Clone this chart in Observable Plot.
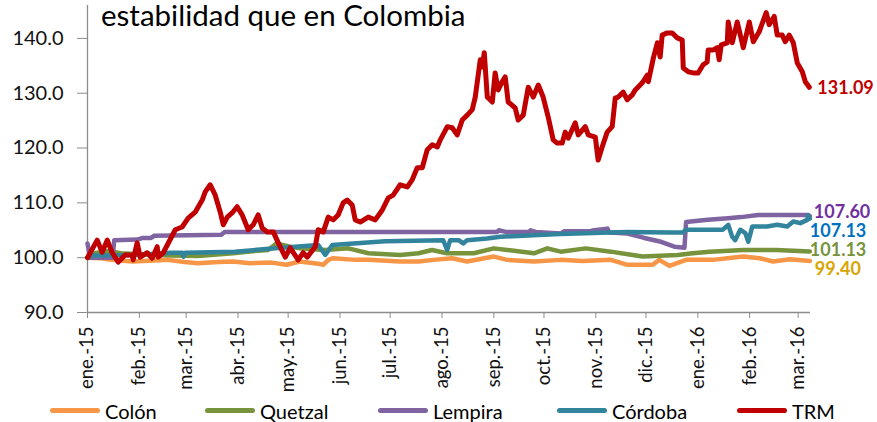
<!DOCTYPE html>
<html><head><meta charset="utf-8">
<script src="https://cdn.jsdelivr.net/npm/d3@7"></script>
<script src="https://cdn.jsdelivr.net/npm/@observablehq/plot@0.6"></script>
<style>
body{margin:0;background:#fff;font-family:Lato,"Open Sans",sans-serif;}
#wrap{position:relative;width:877px;height:422px;overflow:hidden;background:#fff;}
#chart{position:absolute;left:0;top:0;}
#title{position:absolute;left:101px;top:-2px;font-size:29.5px;line-height:34px;color:#000;white-space:nowrap;font-family:Lato,sans-serif;}
#legend{position:absolute;left:0;top:399px;width:877px;height:23px;}
.item{position:absolute;top:0;height:23px;display:flex;align-items:center;font-size:20px;color:#000;white-space:nowrap;}
.sw{width:50px;height:5px;border-radius:3px;margin-right:5px;}
</style></head><body>
<div id="wrap"><div id="chart"></div><div id="title">estabilidad que en Colombia</div><div id="legend"></div></div>
<script>
// ---------- data ----------
const seriesNames = ["Colón", "Quetzal", "Lempira", "Córdoba", "TRM"];
const seriesColors = ["#F79646", "#77933C", "#8064A2", "#31849B", "#C00000"];
const endLabels = ["99.40", "101.13", "107.60", "107.13", "131.09"];
const endLabelColors = ["#D9A400", "#77933C", "#7030A0", "#0070C0", "#C00000"];
const monthLabels = ["ene.-15","feb.-15","mar.-15","abr.-15","may.-15","jun.-15","jul.-15","ago.-15","sep.-15","oct.-15","nov.-15","dic.-15","ene.-16","feb.-16","mar.-16"];
const yTicks = [90, 100, 110, 120, 130, 140];

// days since 1 Jan 2015
const colonDays = [0,8,14,27,40,48,58,66,78,87,97,110,119,127,138,141,144,147,160,168,187,198,207,218,227,243,251,267,283,296,313,323,338,342,348,358,374,392,402,410,420,432];
const colonValues = [100.0,99.9,99.6,99.3,99.5,99.6,99.2,99.0,99.2,99.3,99.0,99.1,98.7,99.3,98.9,98.7,99.6,99.9,99.6,99.6,99.3,99.3,99.6,99.9,99.3,100.2,99.6,99.3,99.6,99.4,99.6,98.7,98.7,99.6,98.5,99.6,99.6,100.2,99.9,99.3,99.7,99.4];

const quetzalDays = [0,4,13,20,35,50,66,87,100,108,113,121,127,142,156,168,187,198,206,215,231,243,251,267,275,283,298,313,332,353,362,372,392,412,432];
const quetzalValues = [100.0,100.8,101.2,100.8,100.6,100.4,100.3,100.8,101.2,101.4,102.6,102.0,101.7,101.4,101.7,100.8,100.5,100.8,101.4,100.8,100.8,101.7,101.4,100.8,101.7,101.1,101.7,101.1,100.2,100.5,100.8,101.1,101.4,101.4,101.13];

const lempiraDays = [0,1.5,15,16,30,33,38,40,80,82,245,246,250,264,265,268,283,285,300,303,311,312,323,333,343,351,357,358,371,383,391,401,431,432];
const lempiraValues = [102.6,100.0,100.0,103.2,103.3,103.6,103.6,104.0,104.2,104.7,104.7,105.0,104.7,104.7,105.0,104.7,104.4,104.8,104.8,105.0,105.3,104.6,104.4,103.6,102.9,102.0,101.8,106.5,106.9,107.2,107.4,107.8,107.8,107.6];

const cordobaDays = [0,3,28,50,56.6,57.5,58.5,88.3,112.3,138,142.2,146.4,178,212.7,215.1,216.9,222,224.7,227,239,246.9,266.6,282.7,322.7,348.5,356,358,380,383.2,385.6,387.4,390.4,393.4,395.2,397.6,406.5,412.5,418.5,422.1,426.3,430.5,430.9,432];
const cordobaValues = [100.0,100.4,100.5,100.9,100.9,100.2,100.9,101.1,101.7,102.3,100.5,102.3,103.0,103.2,101.4,103.2,103.2,102.6,103.2,103.5,103.8,104.1,104.3,104.7,104.6,104.6,105.1,105.1,106.0,103.8,103.2,105.1,104.5,102.9,105.7,105.7,106.0,105.7,106.6,106.3,106.9,107.7,107.13];

const trmDays = [0,5.8,8.8,11.8,14.8,18.4,22.5,26.7,27.3,29.7,
31.5,35.7,38.7,41.7,42.3,45.3,52.5,56.6,60.2,64.4,
68.6,70.4,73.4,76.4,79.4,81.2,83.6,86.6,89.5,92.5,
96.1,99.1,102.1,104.5,107.5,111.1,114.1,118.3,121.2,126.0,
129.0,131.4,136.2,138.0,141.0,144.0,147.0,149.9,152.9,155.3,
158.3,160.1,163.1,167.9,172.1,176.3,179.9,182.8,187.0,191.2,
194.2,197.2,200.2,203.2,206.2,209.2,211.0,215.2,218.1,221.1,
224.1,227.1,230.1,231.9,234.9,236.1,237.3,239.1,242.1,243.8,
245.6,248.0,249.8,251.6,255.8,257.6,260.6,263.6,266.6,269.6,
272.5,275.5,278.5,280.9,283.9,285.7,287.5,291.7,293.5,297.7,
299.5,303.7,305.4,307.8,310.8,313.8,315.6,317.4,320.4,322.8,
325.8,327.6,331.8,334.8,335.4,338.4,340.8,342.5,343.7,346.7,
349.7,352.7,355.7,356.3,359.3,362.3,365.2,368.2,370.6,371.2,
374.2,376.6,377.8,379.0,382.6,383.2,385.6,388.6,392.2,395.8,
398.2,401.7,405.9,407.7,410.7,412.5,415.5,417.3,419.7,422.1,
424.5,427.5,429.3,431.7];
const trmValues = [100.0,103.2,101.0,103.2,100.9,99.2,100.5,100.5,99.6,102.7,
100.1,100.9,99.9,102.0,100.1,100.9,105.1,105.6,107.2,108.3,
110.5,112.0,113.3,111.4,108.3,106.0,107.4,108.2,109.3,107.8,
105.1,106.0,107.8,105.4,104.7,104.7,102.7,100.1,101.8,99.6,
100.9,100.1,102.0,105.1,104.7,107.4,106.9,107.8,110.0,110.5,
109.6,106.9,106.5,107.4,106.9,108.7,110.9,111.4,113.3,112.9,
114.2,116.4,116.4,119.7,120.6,120.2,121.5,123.9,123.7,122.4,
125.1,126.0,127.0,129.3,136.1,134.8,137.4,129.3,128.4,133.7,
130.6,132.1,133.0,128.4,127.3,125.1,126.0,131.1,129.3,131.5,
129.3,125.7,121.5,120.9,120.9,122.9,121.8,124.6,122.4,123.9,
122.4,122.0,117.8,120.2,122.9,123.9,129.1,129.3,130.2,128.8,
129.7,130.6,131.9,133.3,132.1,136.4,139.2,136.6,140.6,141.0,
141.0,140.1,139.7,134.6,133.9,133.7,133.7,135.2,135.7,137.9,
137.9,138.3,136.1,138.8,139.2,143.0,139.2,143.0,138.3,143.0,
139.4,141.2,144.7,142.5,144.0,140.6,140.6,139.4,140.6,139.2,
135.5,133.9,132.1,131.09];

// ---------- build ----------
const t0 = Date.UTC(2015, 0, 1);
const toDate = d => new Date(t0 + d * 864e5);
const allDays = [colonDays, quetzalDays, lempiraDays, cordobaDays, trmDays];
const allValues = [colonValues, quetzalValues, lempiraValues, cordobaValues, trmValues];
const rows = [];
seriesNames.forEach((name, i) => {
  allDays[i].forEach((d, j) => rows.push({series: name, date: toDate(d), value: allValues[i][j]}));
});
const lastRows = seriesNames.map((name, i) => ({
  series: name, label: endLabels[i], color: endLabelColors[i],
  date: toDate(allDays[i][allDays[i].length - 1]),
  value: allValues[i][allValues[i].length - 1]
}));
const xStart = toDate(0), xEnd = toDate(432.4);
const monthTicks = d3.utcMonths(xStart, toDate(433));
const fmtMonth = d => monthLabels[monthTicks.findIndex(t => +t === +d)];

// label offsets (layout only)
const labelOffsets = {"Colón": [5, 8], "Quetzal": [0, -1], "Lempira": [4, -4], "Córdoba": [0, 13], "TRM": [8, 1]};
const axisGray = "#8c8c8c";

const chart = Plot.plot({
  width: 877, height: 399,
  marginLeft: 87, marginRight: 67, marginTop: 5, marginBottom: 87,
  x: {type: "utc", domain: [xStart, xEnd]},
  y: {domain: [90, 146]},
  color: {domain: seriesNames, range: seriesColors},
  style: {fontFamily: "Lato, sans-serif", background: "transparent", overflow: "visible"},
  marks: [
    Plot.axisY({ticks: yTicks, tickFormat: d => d.toFixed(1), tickSize: 10, tickPadding: 14, fontSize: 20, stroke: axisGray, fill: "#111", label: null}),
    Plot.axisX({ticks: monthTicks, tickFormat: fmtMonth, tickRotate: -90, tickSize: 6, tickPadding: 8, fontSize: 18.5, stroke: axisGray, fill: "#111", label: null}),
    Plot.ruleY([90], {stroke: axisGray, strokeWidth: 1.3}),
    Plot.ruleX([xStart], {stroke: axisGray, strokeWidth: 1.3}),
    Plot.line(rows, {x: "date", y: "value", z: "series", stroke: "series",
      strokeWidth: d => d.series === "TRM" ? 5 : 4.5, strokeLinejoin: "round", strokeLinecap: "round", curve: "linear"}),
    ...lastRows.map(r => Plot.text([r], {x: "date", y: "value", text: "label", fill: r.color,
      textAnchor: "start", fontWeight: "bold", fontSize: 18,
      dx: labelOffsets[r.series][0], dy: labelOffsets[r.series][1]}))
  ]
});
document.getElementById("chart").appendChild(chart);

// legend
const legendLeft = [50, 205, 378, 557, 737];
const legend = document.getElementById("legend");
seriesNames.forEach((name, i) => {
  const it = document.createElement("div");
  it.className = "item";
  it.style.left = legendLeft[i] + "px";
  it.innerHTML = `<span class="sw" style="background:${seriesColors[i]}"></span><span>${name}</span>`;
  legend.appendChild(it);
});
</script>
</body></html>
